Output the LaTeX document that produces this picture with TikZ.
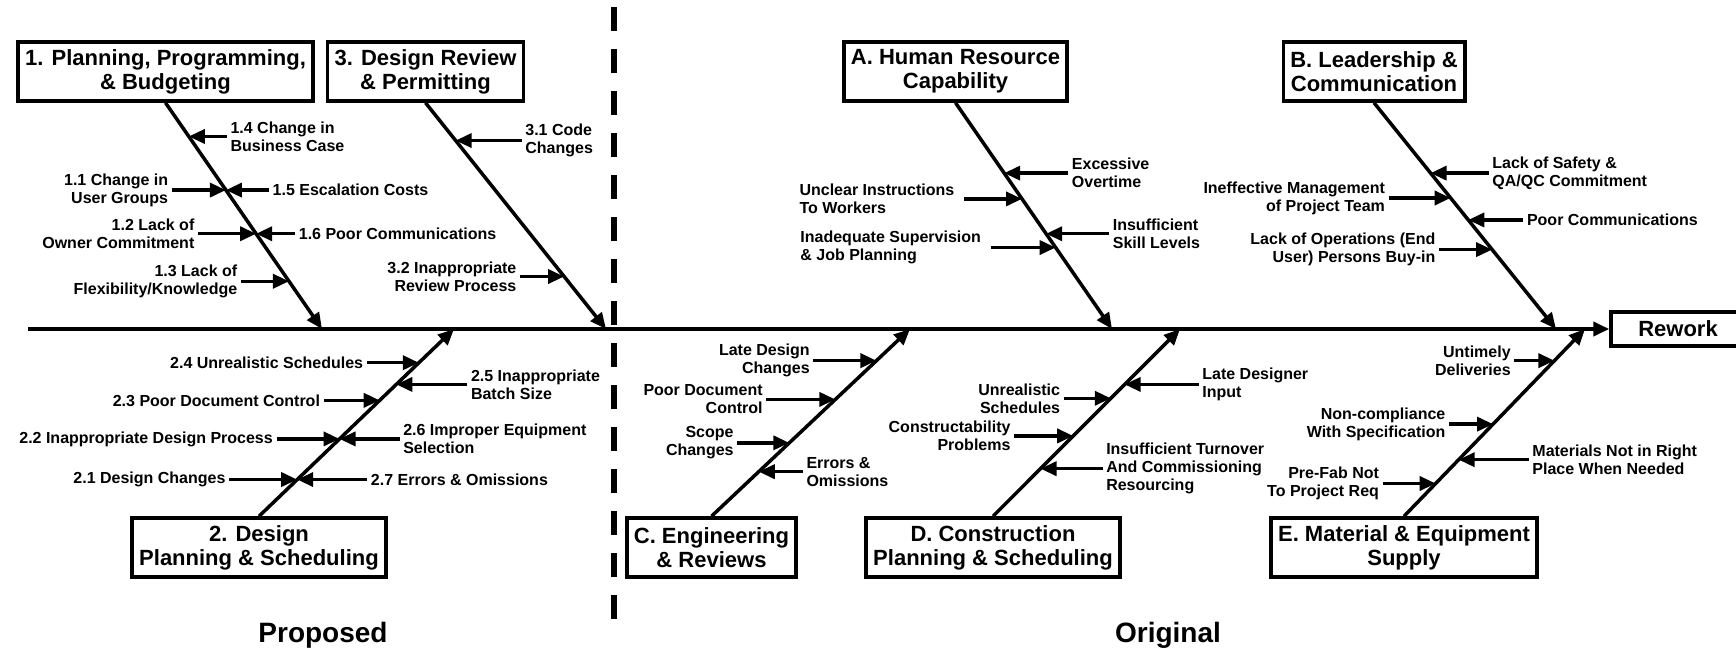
\documentclass[tikz,border=0pt]{standalone}
\usepackage{fontspec}
\setmainfont{Liberation Sans}
\usetikzlibrary{arrows.meta,positioning}

\begin{document}
\begin{tikzpicture}[
            x = 1pt, y = -1pt, % one unit per pixel, y grows downwards
            > = {Triangle[length=16pt,width=14pt]}, % arrow head style
            line width = 3.5pt, % line style
            category/.style = {draw, align=center, inner xsep=7pt, minimum height=59pt,
                               font=\fontsize{22}{24}\selectfont\bfseries},
            cause/.style = {inner sep=2pt, font=\fontsize{16}{18}\selectfont\bfseries},
            sidename/.style = {font=\fontsize{28}{32}\selectfont\bfseries}
        ]

	\useasboundingbox (0,0) rectangle (1736,650);

	% category boxes
	\node[category] (g1) at (165.5,71.5) {1. Planning, Programming,\\\& Budgeting};
	\node[category] (g3) at (425.5,71.5) {3. Design Review\\\& Permitting};
	\node[category] (gA) at (955.5,71.5) {A. Human Resource\\Capability};
	\node[category] (gB) at (1374,71.5) {B. Leadership \&\\Communication};
	\node[category] (g2) at (259,547.5) {2. Design\\Planning \& Scheduling};
	\node[category] (gC) at (711.5,547.5) {C. Engineering\\\& Reviews};
	\node[category] (gD) at (993,547.5) {D. Construction\\Planning \& Scheduling};
	\node[category] (gE) at (1404,547.5) {E. Material \& Equipment\\Supply};
	\node[category, minimum width=134pt, minimum height=34pt] (rework) at (1678,329) {Rework};

	% spine
	\coordinate (tail) at (28,329);
	\draw[->, line width=4pt] (tail) -- (rework);

	% bones meet the spine here
	\coordinate (h1) at (322,329);
	\coordinate (h3) at (606,329);
	\coordinate (hA) at (1112,329);
	\coordinate (hB) at (1556,329);
	\coordinate (h2) at (454,329);
	\coordinate (hC) at (910,329);
	\coordinate (hD) at (1180,329);
	\coordinate (hE) at (1585,329);

	\draw[->] (g1.south) -- (h1) coordinate[pos=.149] (t14) coordinate[pos=.386] (t11)
		coordinate[pos=.579] (t12) coordinate[pos=.789] (t13);
	\draw[->] (g3.south) -- (h3) coordinate[pos=.167] (t31) coordinate[pos=.768] (t32);
	\draw[->] (gA.south) -- (hA) coordinate[pos=.311] (tA1) coordinate[pos=.425] (tA2)
		coordinate[pos=.579] (tA3) coordinate[pos=.640] (tA4);
	\draw[->] (gB.south) -- (hB) coordinate[pos=.311] (tB1) coordinate[pos=.421] (tB2)
		coordinate[pos=.518] (tB3) coordinate[pos=.649] (tB4);
	\draw[->] (g2.north) -- (h2) coordinate[pos=.82] (t24) coordinate[pos=.704] (t25)
		coordinate[pos=.619] (t23) coordinate[pos=.413] (t22) coordinate[pos=.196] (t21);
	\draw[->] (gC.north) -- (hC) coordinate[pos=.831] (tC1) coordinate[pos=.624] (tC2)
		coordinate[pos=.392] (tC3) coordinate[pos=.238] (tC4);
	\draw[->] (gD.north) -- (hD) coordinate[pos=.704] (tD1) coordinate[pos=.63] (tD2)
		coordinate[pos=.429] (tD3) coordinate[pos=.254] (tD4);
	\draw[->] (gE.north) -- (hE) coordinate[pos=.831] (tE1) coordinate[pos=.492] (tE2)
		coordinate[pos=.302] (tE3) coordinate[pos=.175] (tE4);

	% 1. planning, programming & budgeting
	\node[cause, align=left, right=38pt of t14] (k14) {1.4 Change in\\Business Case};
	\node[cause, align=right, left=54pt of t11] (k11) {1.1 Change in\\User Groups};
	\node[cause, right=43pt of t11] (k15) {1.5 Escalation Costs};
	\node[cause, align=right, left=58pt of t12] (k12) {1.2 Lack of\\Owner Commitment};
	\node[cause, right=39pt of t12] (k16) {1.6 Poor Communications};
	\node[cause, align=right, left=48pt of t13] (k13) {1.3 Lack of\\Flexibility/Knowledge};
	\draw[->] (k14) -- (t14);
	\draw[->] (k11) -- (t11);
	\draw[->] (k15) -- (t11);
	\draw[->] (k12) -- (t12);
	\draw[->] (k16) -- (t12);
	\draw[->] (k13) -- (t13);

	% 3. design review & permitting
	\node[cause, align=left, right=66pt of t31] (k31) {3.1 Code\\Changes};
	\node[cause, align=right, left=44pt of t32] (k32) {3.2 Inappropriate\\Review Process};
	\draw[->] (k31) -- (t31);
	\draw[->] (k32) -- (t32);

	% 2. design planning & scheduling
	\node[cause, left=52pt of t24] (k24) {2.4 Unrealistic Schedules};
	\node[cause, align=left, right=71pt of t25] (k25) {2.5 Inappropriate\\Batch Size};
	\node[cause, left=56pt of t23] (k23) {2.3 Poor Document Control};
	\node[cause, left=63pt of t22] (k22) {2.2 Inappropriate Design Process};
	\node[cause, align=left, right=60pt of t22] (k26) {2.6 Improper Equipment\\Selection};
	\node[cause, left=68pt of t21] (k21) {2.1 Design Changes};
	\node[cause, right=70pt of t21] (k27) {2.7 Errors \& Omissions};
	\draw[->] (k24) -- (t24);
	\draw[->] (k25) -- (t25);
	\draw[->] (k23) -- (t23);
	\draw[->] (k22) -- (t22);
	\draw[->] (k26) -- (t22);
	\draw[->] (k21) -- (t21);
	\draw[->] (k27) -- (t21);

	% A. human resource capability
	\node[cause, align=left, right=64pt of tA1] (kA1) {Excessive\\Overtime};
	\node[cause, align=left, inner xsep=8pt, left=58pt of tA2] (kA2) {Unclear Instructions\\To Workers};
	\node[cause, align=left, right=63pt of tA3] (kA3) {Insufficient\\Skill Levels};
	\node[cause, align=left, inner xsep=8pt, left=65pt of tA4] (kA4) {Inadequate Supervision\\\& Job Planning};
	\draw[->] (kA1) -- (tA1);
	\draw[->] (kA2) -- (tA2);
	\draw[->] (kA3) -- (tA3);
	\draw[->] (kA4) -- (tA4);

	% B. leadership & communication
	\node[cause, align=left, right=58pt of tB1] (kB1) {Lack of Safety \&\\QA/QC Commitment};
	\node[cause, align=right, left=62pt of tB2] (kB2) {Ineffective Management\\of Project Team};
	\node[cause, right=55pt of tB3] (kB3) {Poor Communications};
	\node[cause, align=right, left=53pt of tB4] (kB4) {Lack of Operations (End\\User) Persons Buy-in};
	\draw[->] (kB1) -- (tB1);
	\draw[->] (kB2) -- (tB2);
	\draw[->] (kB3) -- (tB3);
	\draw[->] (kB4) -- (tB4);

	% C. engineering & reviews
	\node[cause, align=right, left=63pt of tC1] (kC1) {Late Design\\Changes};
	\node[cause, align=right, left=69pt of tC2] (kC2) {Poor Document\\Control};
	\node[cause, align=right, left=52pt of tC3] (kC3) {Scope\\Changes};
	\node[cause, align=left, right=44pt of tC4] (kC4) {Errors \&\\Omissions};
	\draw[->] (kC1) -- (tC1);
	\draw[->] (kC2) -- (tC2);
	\draw[->] (kC3) -- (tC3);
	\draw[->] (kC4) -- (tC4);

	% D. construction planning & scheduling
	\node[cause, align=left, right=74pt of tD1] (kD1) {Late Designer\\Input};
	\node[cause, align=right, left=47pt of tD2] (kD2) {Unrealistic\\Schedules};
	\node[cause, align=right, left=59pt of tD3] (kD3) {Constructability\\Problems};
	\node[cause, align=left, right=62pt of tD4] (kD4) {Insufficient Turnover\\And Commissioning\\Resourcing};
	\draw[->] (kD1) -- (tD1);
	\draw[->] (kD2) -- (tD2);
	\draw[->] (kD3) -- (tD3);
	\draw[->] (kD4) -- (tD4);

	% E. material & equipment supply
	\node[cause, align=right, left=40pt of tE1] (kE1) {Untimely\\Deliveries};
	\node[cause, align=right, left=44pt of tE2] (kE2) {Non-compliance\\With Specification};
	\node[cause, align=left, right=70pt of tE3] (kE3) {Materials Not in Right\\Place When Needed};
	\node[cause, align=right, left=53pt of tE4] (kE4) {Pre-Fab Not\\To Project Req};
	\draw[->] (kE1) -- (tE1);
	\draw[->] (kE2) -- (tE2);
	\draw[->] (kE3) -- (tE3);
	\draw[->] (kE4) -- (tE4);

	% proposed | original
	\coordinate (cut top) at (614,7);
	\coordinate (cut bottom) at (614,619);
	\draw[line width=6pt, dash pattern=on 24pt off 18pt] (cut top) -- (cut bottom);
	\node[sidename] (proposed) at (323,635) {Proposed};
	\node[sidename] (original) at (1168,635) {Original};

\end{tikzpicture}
\end{document}
